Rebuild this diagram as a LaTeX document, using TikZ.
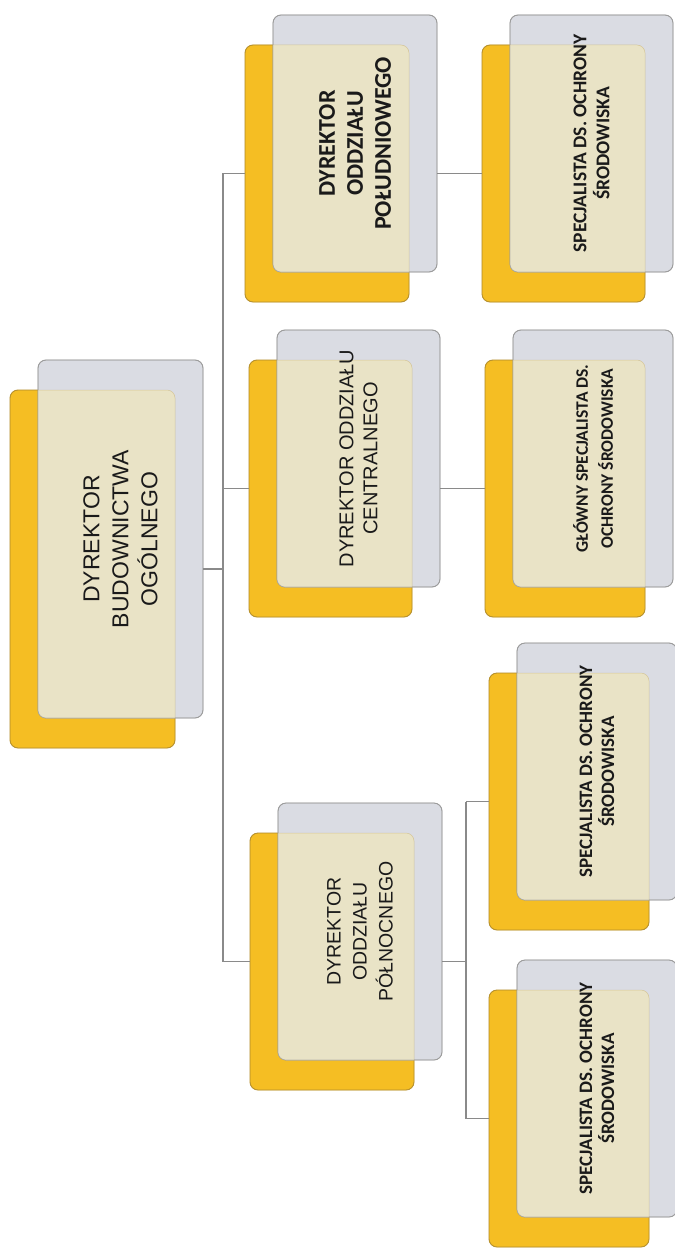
\documentclass[tikz,border=0pt]{standalone}
\usepackage{fontspec}
\newfontfamily\arialf{Liberation Sans}
\newfontfamily\calibrif{Carlito}
\definecolor{yel}{HTML}{F5BE23}
\definecolor{yelb}{HTML}{B8922E}
\definecolor{gry}{HTML}{DADCE3}
\definecolor{gryb}{HTML}{9C9C9C}
\definecolor{crm}{HTML}{E9E3C6}
\definecolor{lin}{HTML}{8A8A8A}
\definecolor{txt}{HTML}{1A1A1A}
\tikzset{
  ybox/.style={draw=yelb, fill=yel, line width=0.9pt, rounded corners=8pt, inner sep=0pt, outer sep=0pt, anchor=north west},
  gbox/.style={draw=gryb, fill=gry, line width=0.9pt, rounded corners=8pt, inner sep=0pt, outer sep=0pt, anchor=north west},
  conn/.style={draw=lin, line width=1.1pt},
  lbl/.style={rotate=90, align=center, text=txt, inner sep=0pt},
}
\newcommand{\obox}[5]{%
  \node[ybox, minimum width=#4pt, minimum height=#5pt] (#1Y) at ({#2-28},{#3+30}) {};
  \node[gbox, minimum width=#4pt, minimum height=#5pt] (#1G) at (#2,#3) {};
  \begin{scope}
    \clip[rounded corners=8pt] (#1Y.north west) rectangle (#1Y.south east);
    \fill[crm, rounded corners=8pt] (#1G.north west) rectangle (#1G.south east);
  \end{scope}
  \draw[gryb, line width=0.6pt, opacity=0.6, rounded corners=8pt] (#1G.north west) rectangle (#1G.south east);
  \draw[yelb, line width=0.5pt, opacity=0.35, rounded corners=8pt] (#1Y.north west) rectangle (#1Y.south east);
}
\begin{document}
\begin{tikzpicture}[x=1pt,y=-1pt]
\fill[white] (0,0) rectangle (674,1249);
\useasboundingbox (0,0) rectangle (674,1249);

\obox{root}{38}{360}{165}{358}
\obox{sdir}{273}{15}{164}{257}
\obox{cdir}{277}{330}{163}{257}
\obox{ndir}{278}{803}{164}{257}
\obox{sspec}{510}{15}{163}{257}
\obox{cspec}{513}{330}{160}{257}
\obox{nspecA}{517}{643}{160}{257}
\obox{nspecB}{517}{960}{160}{257}

\node[lbl, font=\arialf\fontsize{23}{29}\selectfont] (rootT) at (rootG.center) {DYREKTOR\\BUDOWNICTWA\\OGÓLNEGO};
\node[lbl, font=\calibrif\bfseries\fontsize{24}{28}\selectfont] (sdirT) at (sdirG.center) {DYREKTOR\\ODDZIAŁU\\POŁUDNIOWEGO};
\node[lbl, font=\arialf\fontsize{20}{24}\selectfont] (cdirT) at (cdirG.center) {DYREKTOR ODDZIAŁU\\CENTRALNEGO};
\node[lbl, font=\arialf\fontsize{19.5}{26}\selectfont] (ndirT) at (ndirG.center) {DYREKTOR\\ODDZIAŁU\\PÓŁNOCNEGO};
\node[lbl, font=\calibrif\bfseries\fontsize{19.5}{23}\selectfont] (sspecT) at (sspecG.center) {SPECJALISTA DS. OCHRONY\\ŚRODOWISKA};
\node[lbl, font=\calibrif\bfseries\fontsize{17.5}{25}\selectfont] (cspecT) at (cspecG.center) {GŁÓWNY SPECJALISTA DS.\\OCHRONY ŚRODOWISKA};
\node[lbl, font=\calibrif\bfseries\fontsize{19}{22}\selectfont] (nspecAT) at (nspecAG.center) {SPECJALISTA DS. OCHRONY\\ŚRODOWISKA};
\node[lbl, font=\calibrif\bfseries\fontsize{19}{22}\selectfont] (nspecBT) at (nspecBG.center) {SPECJALISTA DS. OCHRONY\\ŚRODOWISKA};

\coordinate (spine) at (223,0);
\coordinate (nspine) at (466,0);
\draw[conn] (rootG.east |- rootY.center) -- (spine |- rootY.center);
\draw[conn] (spine |- sdirY.west) -- (spine |- ndirY.west);
\draw[conn] (spine |- sdirY.west) -- (sdirY.west);
\draw[conn] (spine |- cdirY.west) -- (cdirY.west);
\draw[conn] (spine |- ndirY.west) -- (ndirY.west);
\draw[conn] (sdirG.east |- sdirY.west) -- (sspecY.west);
\draw[conn] (cdirG.east |- cdirY.west) -- (cspecY.west);
\draw[conn] (ndirG.east |- ndirY.west) -- (nspine |- ndirY.west);
\draw[conn] (nspine |- nspecAY.west) -- (nspine |- nspecBY.west);
\draw[conn] (nspine |- nspecAY.west) -- (nspecAY.west);
\draw[conn] (nspine |- nspecBY.west) -- (nspecBY.west);
\end{tikzpicture}
\end{document}
